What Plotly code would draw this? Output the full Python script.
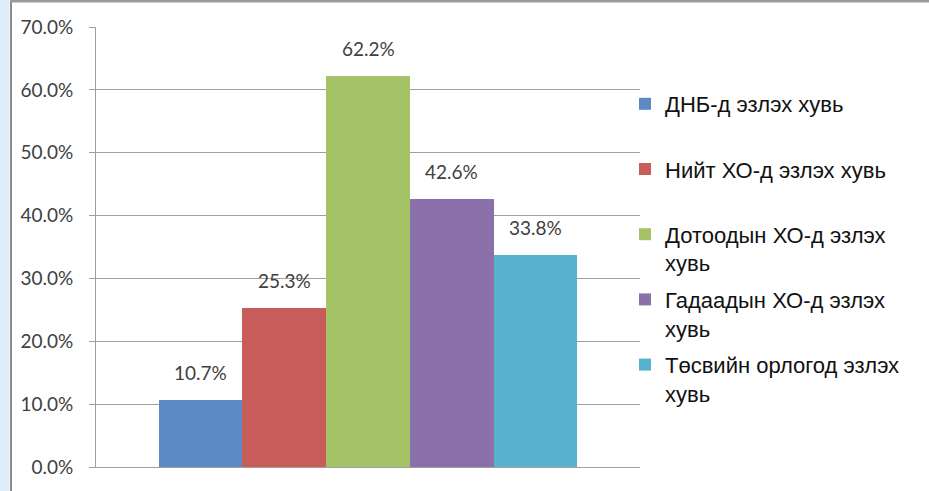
import plotly.graph_objects as go

# ---- data ----
series_names = [
    "ДНБ-д эзлэх хувь",
    "Нийт ХО-д эзлэх хувь",
    "Дотоодын ХО-д эзлэх хувь",
    "Гадаадын ХО-д эзлэх хувь",
    "Төсвийн орлогод эзлэх хувь",
]
legend_labels = [
    "ДНБ-д эзлэх хувь<br> ",
    "Нийт ХО-д эзлэх хувь<br> ",
    "Дотоодын ХО-д эзлэх<br>хувь",
    "Гадаадын ХО-д эзлэх<br>хувь",
    "Төсвийн орлогод эзлэх<br>хувь",
]
values = [0.107, 0.253, 0.622, 0.426, 0.338]
colors = ["#5B8AC5", "#C85C5A", "#A6C266", "#8A71AA", "#57B3CD"]
y_ticks = [0.0, 0.1, 0.2, 0.3, 0.4, 0.5, 0.6, 0.7]

# ---- layout geometry (pixels) ----
W, H = 929, 491
L, R, T, B = 96, 640, 27, 467
pw, ph = R - L, B - T

def px(x):
    return (x - L) / pw

def py(y):
    return (B - y) / ph

fig = go.Figure()
for name, lab, v, c in zip(series_names, legend_labels, values, colors):
    fig.add_trace(go.Bar(
        x=[name], y=[v], name=lab, marker=dict(color=c, line=dict(width=0)),
        legendgroup=name, hoverinfo="skip",
    ))
    fig.add_annotation(
        x=name, y=v, text=f"{v*100:.1f}%", showarrow=False,
        yanchor="bottom", yshift=14,
        font=dict(family="Lato, Carlito, sans-serif", size=19, color="#404040"),
    )

grey = "#A0A0A0"
fig.update_layout(
    width=W, height=H,
    margin=dict(l=L, r=W - R, t=T, b=H - B, pad=0),
    paper_bgcolor="white", plot_bgcolor="white",
    barmode="overlay", bargap=0,
    showlegend=True,
    legend=dict(
        x=px(625), y=py(83), xanchor="left", yanchor="top",
        valign="top", tracegroupgap=5,
        font=dict(family="Liberation Sans, Arial, sans-serif", size=22, color="#111111"),
        bgcolor="rgba(0,0,0,0)",
    ),
    xaxis=dict(
        type="category", categoryorder="array", categoryarray=series_names,
        range=[-1.25, 5.25], showticklabels=False, ticks="",
        showline=True, linecolor=grey, linewidth=1, showgrid=False, fixedrange=True,
    ),
    yaxis=dict(
        range=[0, 0.7], tickvals=y_ticks, tickformat=".1%",
        showgrid=True, gridcolor=grey, gridwidth=1,
        showline=True, linecolor=grey, linewidth=1,
        ticks="outside", ticklen=6, tickcolor=grey, ticklabelstandoff=12,
        tickfont=dict(family="Lato, Carlito, sans-serif", size=19, color="#404040"),
        zeroline=False, fixedrange=True,
    ),
    shapes=[
        dict(type="rect", xref="paper", yref="paper",
             x0=px(0), x1=px(9.5), y0=py(H), y1=py(0),
             fillcolor="#DDEEFA", line=dict(width=0), layer="below"),
        dict(type="line", xref="paper", yref="paper",
             x0=px(11), x1=px(11), y0=py(H), y1=py(0),
             line=dict(color="#8C8C8C", width=2)),
        dict(type="line", xref="paper", yref="paper",
             x0=px(10), x1=px(W), y0=py(1), y1=py(1),
             line=dict(color="#9A9A9A", width=3)),
    ],
)

fig.write_html(
    "out.html",
    config={"displayModeBar": False},
    post_script="document.body.style.margin='0px';document.body.style.overflow='hidden';",
)
